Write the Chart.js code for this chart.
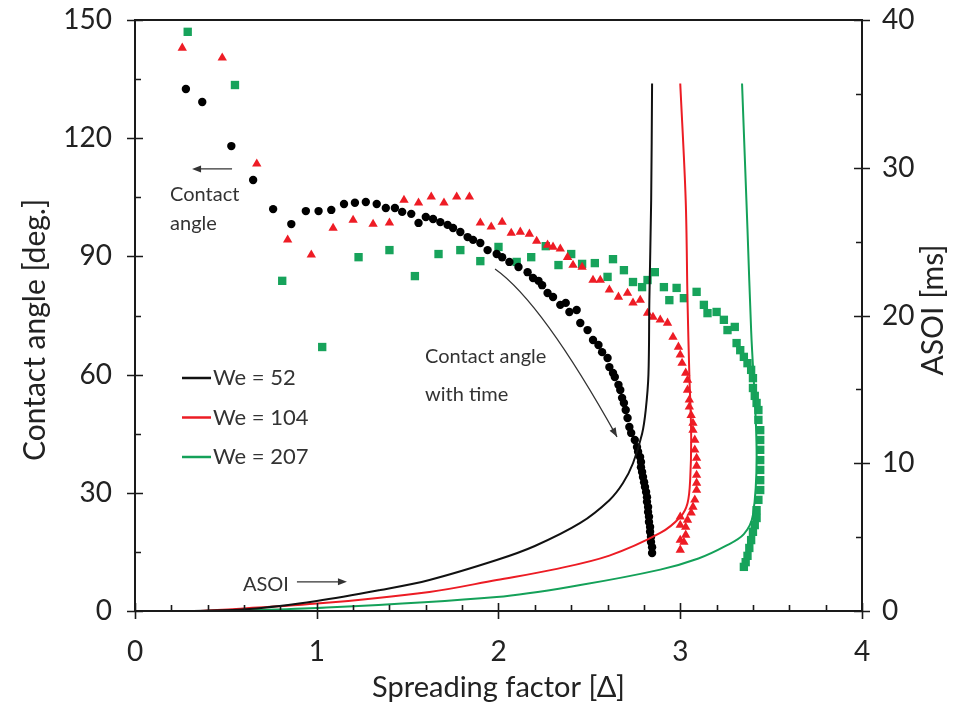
<!DOCTYPE html>
<html>
<head>
<meta charset="utf-8">
<script src="https://cdn.jsdelivr.net/npm/chart.js@4.4.1/dist/chart.umd.min.js"></script>
<style>
  body { margin: 0; background: #fff; }
  canvas { display: block; }
</style>
</head>
<body>
<canvas id="spread" width="959" height="711"></canvas>
<script>
// ---------- DATA ----------
// contact angle [deg.] vs spreading factor, one list per Weber number
const we52X = [0.28,0.37,0.53,0.65,0.76,0.86,0.94,1.01,1.08,1.15,1.21,1.27,1.33,1.38,1.43,1.47,1.52,1.56,1.60,1.64,1.68,1.72,1.75,1.79,1.83,1.86,1.90,1.94,1.99,2.02,2.06,2.11,2.16,2.19,2.22,2.24,2.27,2.30,2.34,2.37,2.39,2.43,2.45,2.49,2.52,2.55,2.57,2.60,2.61,2.63,2.64,2.66,2.67,2.68,2.69,2.70,2.71,2.72,2.73,2.75,
  2.762,2.768,2.779,2.784,2.784,2.790,2.795,2.801,2.806,2.812,2.817,2.817,2.823,2.823,2.828,2.828,2.834,2.834,2.839,2.839,2.845,2.845];
const we52Angle = [132.5,129.2,118.0,109.4,102.0,98.2,101.5,101.5,101.8,103.3,103.6,103.8,103.3,102.3,102.3,101.3,100.8,98.5,100.0,99.5,98.7,98.0,97.2,96.2,94.9,94.2,93.4,91.6,90.6,89.8,88.6,87.3,86.0,84.5,83.8,82.7,80.7,79.7,77.7,78.2,75.9,76.4,73.1,71.3,68.8,67.5,65.7,64.2,61.9,60.4,59.4,57.4,56.1,54.1,52.8,51.0,49.0,46.7,45.2,43.4,
  41.6,40.4,39.1,37.8,36.5,35.3,34.0,32.7,31.5,30.2,28.9,27.7,26.4,25.1,23.9,22.6,21.3,20.1,18.8,17.5,16.2,14.7];

const we104X = [0.26,0.48,0.67,0.84,0.97,1.09,1.20,1.31,1.40,1.48,1.56,1.63,1.70,1.77,1.84,1.90,1.96,2.02,2.07,2.12,2.17,2.21,2.27,2.30,2.34,2.38,2.41,2.46,2.52,2.56,2.61,2.66,2.71,2.74,2.78,2.82,2.85,2.89,2.93,
  2.96,2.99,3.00,3.01,3.03,3.04,3.04,3.05,3.05,3.06,3.07,3.07,3.08,3.08,3.09,3.09,3.09,3.09,3.09,3.08,3.07,3.06,3.04,3.03,3.03,3.02,3.00,3.00,3.00,3.00];
const we104Angle = [142.9,140.4,113.5,94.2,90.4,97.2,99.2,98.2,98.5,104.3,103.6,105.1,103.6,105.1,105.1,98.5,97.5,98.7,95.9,96.2,95.7,93.9,92.9,92.4,91.9,89.8,87.8,87.3,84.0,84.0,81.5,79.7,80.7,78.2,78.9,75.6,74.6,73.9,73.1,
  69.5,67.0,65.0,62.9,60.4,58.6,56.1,53.6,51.8,49.7,47.7,45.9,43.4,40.9,38.8,36.8,34.5,32.5,30.7,28.2,26.4,24.9,23.1,21.3,19.3,17.5,15.5,18.0,21.8,23.9];

const we207X = [0.29,0.55,0.81,1.03,1.23,1.40,1.54,1.67,1.79,1.90,2.00,2.10,2.18,2.26,2.33,2.40,2.46,2.53,2.60,2.63,2.69,2.74,2.79,2.82,2.86,2.91,2.94,2.98,3.02,3.09,3.13,3.15,3.20,3.24,3.26,3.30,
  3.31,3.33,3.35,3.37,3.39,3.40,3.40,3.41,3.42,3.43,3.43,3.44,3.44,3.44,3.44,3.44,3.44,3.44,3.43,3.42,3.42,3.41,3.40,3.39,3.38,3.37,3.36,3.35];
const we207Angle = [147.0,133.5,83.8,67.0,89.8,91.6,85.0,90.6,91.6,88.8,92.4,88.6,89.8,92.6,87.8,90.6,88.1,88.3,84.8,89.3,86.5,83.5,82.2,84.0,86.0,82.2,78.9,82.0,79.4,81.0,77.7,75.6,75.9,73.9,71.3,72.1,
  68.0,66.2,64.5,62.9,61.2,59.1,56.6,54.6,52.8,51.0,48.5,45.9,43.4,40.9,38.3,35.8,33.2,30.7,28.2,25.6,23.6,21.8,20.1,18.0,16.0,14.0,12.4,11.2];

// ASOI [ms] vs spreading factor
const asoi52X = [0.30,0.63,1.00,1.35,1.62,1.99,2.20,2.45,2.61,2.685,2.74,2.79,2.81,2.825,2.83,2.84,2.845];
const asoi52Ms = [0,0.14,0.68,1.42,2.10,3.45,4.4,5.96,7.5,8.66,10.0,12.0,13.6,16.0,21.0,27.8,35.7];
const asoi104X = [0.36,1.00,1.62,1.99,2.30,2.61,2.89,3.00,3.04,3.055,3.06,3.05,3.04,3.03,3.00];
const asoi104Ms = [0,0.5,1.29,2.1,2.8,3.75,5.28,6.36,7.3,9.0,12.0,16.0,21.0,27.8,35.7];
const asoi207X = [0.41,1.00,1.99,2.45,2.89,3.10,3.25,3.35,3.40,3.42,3.39,3.37,3.34];
const asoi207Ms = [0,0.2,0.95,1.76,2.8,3.55,4.4,5.2,6.5,10.9,19.0,25.8,35.7];

const seriesNames = ["We = 52", "We = 104", "We = 207"];
const seriesColors = ["#111111", "#ec1c24", "#14a159"];

// axis ranges
const xRange = [0, 4, 1, 0.2];        // min, max, major, minor
const angleRange = [0, 150, 30, 15];
const asoiRange = [0, 40, 10, 5];

const FONT = "Lato, 'Open Sans', sans-serif";

function pts(xs, ys) {
  return xs.map((x, i) => ({ x: x, y: ys[i] }));
}

// ---------- PLUGINS ----------
// box frame with crossing major ticks and inward minor ticks
const axisFrame = {
  id: "axisFrame",
  afterDatasetsDraw(chart) {
    const { ctx, chartArea: a, scales } = chart;
    ctx.save();
    ctx.strokeStyle = "#1a1a1a";
    ctx.lineWidth = 2;
    ctx.strokeRect(a.left, a.top, a.right - a.left, a.bottom - a.top);
    ctx.lineWidth = 1.6;
    ctx.beginPath();
    for (let v = xRange[0]; v <= xRange[1] + 1e-9; v += xRange[3]) {
      const p = Math.round(scales.x.getPixelForValue(v)) + 0.5;
      const major = Math.abs(v / xRange[2] - Math.round(v / xRange[2])) < 1e-6;
      ctx.moveTo(p, a.bottom - (major ? 8 : 6));
      ctx.lineTo(p, a.bottom + (major ? 8 : 0));
    }
    for (let v = angleRange[0]; v <= angleRange[1]; v += angleRange[3]) {
      const p = Math.round(scales.y.getPixelForValue(v)) + 0.5;
      const major = v % angleRange[2] === 0;
      ctx.moveTo(a.left - (major ? 8 : 0), p);
      ctx.lineTo(a.left + (major ? 8 : 6), p);
    }
    for (let v = asoiRange[0]; v <= asoiRange[1]; v += asoiRange[3]) {
      const p = Math.round(scales.y2.getPixelForValue(v)) + 0.5;
      const major = v % asoiRange[2] === 0;
      ctx.moveTo(a.right - (major ? 8 : 6), p);
      ctx.lineTo(a.right + (major ? 8 : 0), p);
    }
    ctx.stroke();

    // both vertical titles read bottom-to-top
    ctx.fillStyle = "#222";
    ctx.font = "30px " + FONT;
    ctx.textAlign = "center";
    ctx.textBaseline = "middle";
    [["Contact angle [deg.]", 35, 330], ["ASOI [ms]", 933, 310]].forEach(([t, x, y]) => {
      ctx.save();
      ctx.translate(x, y);
      ctx.rotate(-Math.PI / 2);
      ctx.fillText(t, 0, 0);
      ctx.restore();
    });
    ctx.restore();
  }
};

function arrowHead(ctx, x, y, ang) {
  ctx.save();
  ctx.translate(x, y);
  ctx.rotate(ang);
  ctx.beginPath();
  ctx.moveTo(0, 0);
  ctx.lineTo(-9, -3.5);
  ctx.lineTo(-9, 3.5);
  ctx.closePath();
  ctx.fill();
  ctx.restore();
}

// text notes and arrows placed in data units
const notes = {
  id: "notes",
  afterDatasetsDraw(chart) {
    const { ctx, scales } = chart;
    const X = (v) => scales.x.getPixelForValue(v);
    const Y = (v) => scales.y.getPixelForValue(v);
    ctx.save();
    ctx.fillStyle = "#333";
    ctx.strokeStyle = "#333";
    ctx.lineWidth = 1.3;
    ctx.font = "20px " + FONT;
    ctx.textAlign = "left";
    ctx.textBaseline = "alphabetic";

    // contact angle pointer
    ctx.fillText("Contact", X(0.193), Y(104.0));
    ctx.fillText("angle", X(0.193), Y(96.8));
    ctx.beginPath();
    ctx.moveTo(X(0.534), Y(112.2));
    ctx.lineTo(X(0.33), Y(112.2));
    ctx.stroke();
    arrowHead(ctx, X(0.314), Y(112.2), Math.PI);

    // contact angle with time
    ctx.fillText("Contact angle", X(1.596), Y(63.0));
    ctx.fillText("with time", X(1.596), Y(53.2));
    const p0 = [X(1.981), Y(86.8)], c = [X(2.239), Y(78.4)], p2 = [X(2.652), Y(44.2)];
    ctx.beginPath();
    ctx.moveTo(p0[0], p0[1]);
    ctx.quadraticCurveTo(c[0], c[1], p2[0], p2[1]);
    ctx.stroke();
    arrowHead(ctx, p2[0], p2[1], Math.atan2(p2[1] - c[1], p2[0] - c[0]));

    // ASOI pointer
    ctx.fillText("ASOI", X(0.594), Y(5.2));
    ctx.beginPath();
    ctx.moveTo(X(0.891), Y(7.4));
    ctx.lineTo(X(1.12), Y(7.4));
    ctx.stroke();
    arrowHead(ctx, X(1.166), Y(7.4), 0);
    ctx.restore();
  }
};

// line-only legend inside the plot
const lineLegend = {
  id: "lineLegend",
  afterDraw(chart) {
    const { ctx, chartArea: a } = chart;
    ctx.save();
    ctx.font = "22px " + FONT;
    ctx.textBaseline = "middle";
    ctx.textAlign = "left";
    seriesNames.forEach((name, i) => {
      const y = a.top + 358 + i * 39.5;
      ctx.strokeStyle = seriesColors[i];
      ctx.lineWidth = 2.5;
      ctx.beginPath();
      ctx.moveTo(a.left + 47, y);
      ctx.lineTo(a.left + 76, y);
      ctx.stroke();
      ctx.fillStyle = "#333";
      ctx.fillText(name, a.left + 78, y);
    });
    ctx.restore();
  }
};

// ---------- CHART ----------
const lineSet = (xs, ys, color) => ({
  type: "line",
  data: pts(xs, ys),
  yAxisID: "y2",
  borderColor: color,
  borderWidth: 2,
  pointRadius: 0,
  fill: false,
  tension: 0.35,
  order: 0
});

const dotSet = (xs, ys, color, style, r) => ({
  type: "scatter",
  data: pts(xs, ys),
  yAxisID: "y",
  backgroundColor: color,
  borderColor: color,
  borderWidth: 0,
  pointStyle: style,
  pointRadius: r,
  order: 1
});

// keep the plot box where the axes say, without label overhang padding
const fixWidth = (w) => (s) => { s.width = w; s.paddingTop = 0; s.paddingBottom = 0; };

new Chart(document.getElementById("spread"), {
  type: "scatter",
  data: {
    datasets: [
      lineSet(asoi52X, asoi52Ms, seriesColors[0]),
      lineSet(asoi104X, asoi104Ms, seriesColors[1]),
      lineSet(asoi207X, asoi207Ms, seriesColors[2]),
      dotSet(we52X, we52Angle, "#000000", "circle", 4.2),
      dotSet(we104X, we104Angle, "#ee1c25", "triangle", 5.4),
      dotSet(we207X, we207Angle, "#17a35b", "rect", 5.9)
    ]
  },
  options: {
    responsive: false,
    animation: false,
    layout: { padding: { top: 20, right: 0, bottom: 0, left: 0 } },
    plugins: { legend: { display: false }, tooltip: { enabled: false } },
    scales: {
      x: {
        type: "linear",
        min: xRange[0],
        max: xRange[1],
        afterFit: (s) => { s.height = 100; s.paddingLeft = 0; s.paddingRight = 0; },
        grid: { display: false, drawTicks: false },
        border: { display: false },
        ticks: { stepSize: xRange[2], padding: 24, color: "#222", font: { family: FONT, size: 28 } },
        title: { display: true, text: "Spreading factor [Δ]", color: "#222", padding: { top: 0, bottom: 6 }, font: { family: FONT, size: 29 } }
      },
      y: {
        position: "left",
        min: angleRange[0],
        max: angleRange[1],
        afterFit: fixWidth(135),
        grid: { display: false, drawTicks: false },
        border: { display: false },
        ticks: { stepSize: angleRange[2], padding: 23, color: "#222", font: { family: FONT, size: 28 } }
      },
      y2: {
        position: "right",
        min: asoiRange[0],
        max: asoiRange[1],
        afterFit: fixWidth(97),
        grid: { display: false, drawTicks: false },
        border: { display: false },
        ticks: { stepSize: asoiRange[2], padding: 20, color: "#222", font: { family: FONT, size: 28 } }
      }
    }
  },
  plugins: [axisFrame, notes, lineLegend]
});
</script>
</body>
</html>
